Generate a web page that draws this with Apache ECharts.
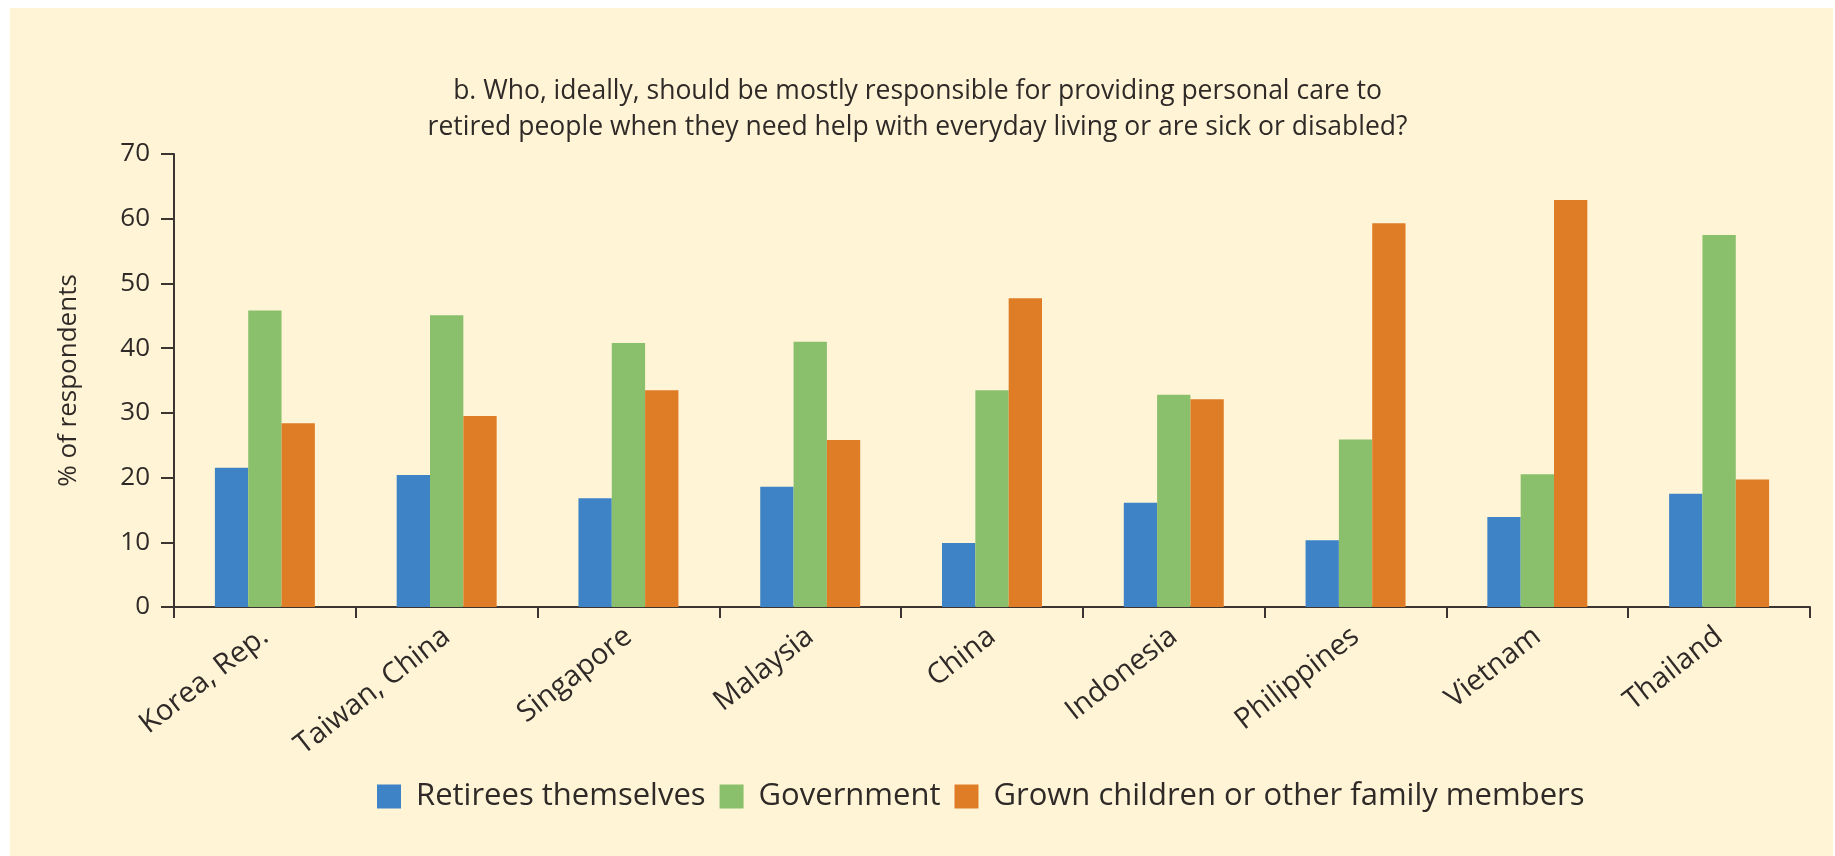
<!DOCTYPE html>
<html>
<head>
<meta charset="utf-8">
<script src="https://cdn.jsdelivr.net/npm/echarts@6/dist/echarts.min.js"></script>
<style>
  html, body { margin: 0; padding: 0; background: #ffffff; }
  #panel { position: absolute; left: 10px; top: 8px; width: 1823px; height: 848px; background: #fff5d6; }
  #chart { position: absolute; left: 0; top: 0; width: 1835px; height: 856px; }
</style>
</head>
<body>
<div id="panel"></div>
<div id="chart"></div>
<script>
const countries = ['Korea, Rep.', 'Taiwan, China', 'Singapore', 'Malaysia', 'China', 'Indonesia', 'Philippines', 'Vietnam', 'Thailand']
const retirees = [21.5, 20.4, 16.8, 18.6, 9.9, 16.1, 10.3, 13.9, 17.5]
const government = [45.8, 45.1, 40.8, 41.0, 33.5, 32.8, 25.9, 20.5, 57.5]
const family = [28.4, 29.5, 33.5, 25.8, 47.7, 32.1, 59.3, 62.9, 19.7]
const seriesNames = ['Retirees themselves', 'Government', 'Grown children or other family members']
const colors = ['#3d83c6', '#8abf6c', '#df7c26']

const font = '"Open Sans", "Noto Sans", sans-serif'
const textColor = '#2f2a28'
const axisColor = '#3b3431'

let chart = echarts.init(document.getElementById('chart'))

function barSeries(name, data, color) {
  return {
    name: name,
    type: 'bar',
    data: data,
    barGap: '0%',
    barCategoryGap: '45%',
    itemStyle: { color: color },
    animation: false
  }
}

let option = {
  backgroundColor: 'transparent',
  textStyle: { fontFamily: font },
  title: {
    text: 'b. Who, ideally, should be mostly responsible for providing personal care to\nretired people when they need help with everyday living or are sick or disabled?',
    left: 'center',
    top: 68,
    textStyle: {
      fontFamily: font,
      fontSize: 26.5,
      fontWeight: 'normal',
      color: textColor,
      lineHeight: 36
    }
  },
  legend: {
    data: seriesNames,
    left: 372,
    top: 776,
    itemWidth: 24,
    itemHeight: 24,
    itemGap: 14,
    icon: 'rect',
    textStyle: { fontFamily: font, fontSize: 31, color: textColor, padding: [0, 0, 0, 10] }
  },
  grid: {
    left: 174,
    right: 25,
    top: 154,
    bottom: 249,
    containLabel: false
  },
  xAxis: {
    type: 'category',
    data: countries,
    axisLine: { lineStyle: { color: axisColor, width: 2 } },
    axisTick: { show: true, length: 11, lineStyle: { color: axisColor, width: 2 } },
    axisLabel: {
      rotate: 38,
      margin: 26,
      fontSize: 29,
      color: textColor,
      fontFamily: font,
      interval: 0
    }
  },
  yAxis: {
    type: 'value',
    min: 0,
    max: 70,
    interval: 10,
    name: '% of respondents',
    nameLocation: 'middle',
    nameGap: 92,
    nameTextStyle: { fontSize: 26, color: textColor, fontFamily: font },
    splitLine: { show: false },
    axisLine: { show: true, lineStyle: { color: axisColor, width: 2 } },
    axisTick: { show: true, length: 13, lineStyle: { color: axisColor, width: 2 } },
    axisLabel: { fontSize: 26, color: textColor, margin: 24, fontFamily: font }
  },
  series: [
    barSeries(seriesNames[0], retirees, colors[0]),
    barSeries(seriesNames[1], government, colors[1]),
    barSeries(seriesNames[2], family, colors[2])
  ]
}

option && chart.setOption(option)
</script>
</body>
</html>
